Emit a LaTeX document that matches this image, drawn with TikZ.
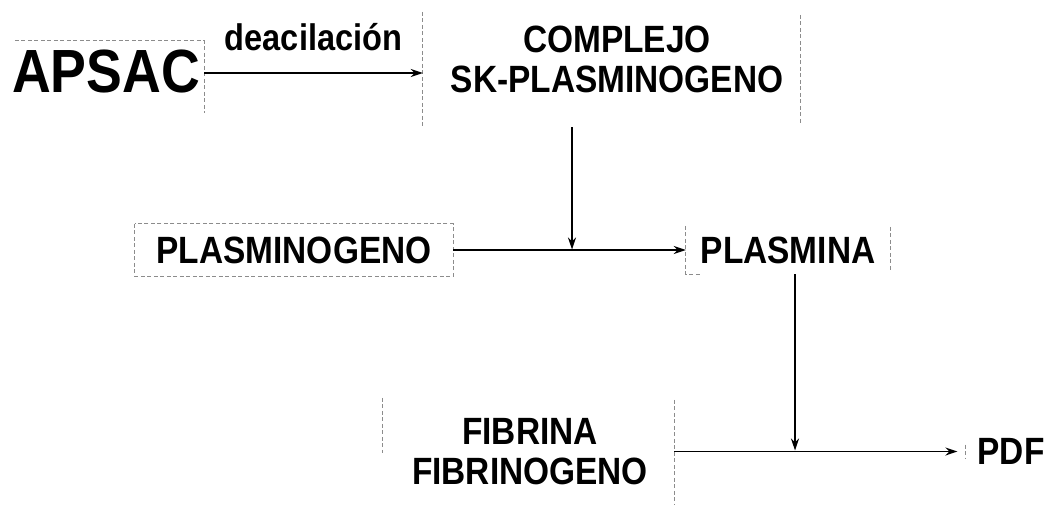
\documentclass[tikz,border=0pt]{standalone}
\usepackage{fontspec}
\setmainfont{Liberation Sans}[FakeStretch=0.88]
\usetikzlibrary{arrows.meta}
\begin{document}
\begin{tikzpicture}[x=1pt,y=-1pt,
  lbl/.style={font=\bfseries\fontsize{38}{40}\selectfont, inner sep=0pt, align=center},
  frame/.style={draw=none, inner sep=0pt},
  faint/.style={draw=black!45, line width=0.7pt, dash pattern=on 4pt off 2.5pt},
  arr/.style={draw=black, line width=1.9pt, -{Stealth[length=12pt,width=8pt]}}]
\useasboundingbox (0,0) rectangle (1054,509);
\fill[white] (0,0) rectangle (1054,509);

% boxes (frames, partly shown by faint dashed lines)
\node[frame, minimum width=189pt, minimum height=72pt] (apsacbox) at (109.5,77) {};
\node[frame, minimum width=377pt, minimum height=115pt] (complejobox) at (611.5,69.5) {};
\node[frame, lbl, minimum width=318pt, minimum height=52pt] (plasminogeno) at (294,250) {PLASMINOGENO};
\node[frame, lbl, minimum width=204pt, minimum height=48pt] (plasmina) at (788,250) {PLASMINA};
\node[frame, minimum width=291pt, minimum height=107pt] (fibrinabox) at (528.5,451.5) {};

% texts
\node[lbl, font=\bfseries\fontsize{61}{61}\selectfont] (apsac) at (106,71) {APSAC};
\node[lbl] (complejo) at (617,59) {COMPLEJO\\SK-PLASMINOGENO};
\node[lbl] (fibrina) at (530,452) {FIBRINA\\FIBRINOGENO};
\node[lbl, inner xsep=20pt] (pdf) at (1011,451.5) {PDF};

% faint dashed frame lines
\draw[faint] (apsacbox.north west) -- (apsacbox.north east) -- (apsacbox.south east);
\draw[faint] (complejobox.north west) -- (complejobox.south west);
\draw[faint] ([yshift=-3pt]complejobox.north east) -- ([yshift=2pt]complejobox.south east);
\draw[faint] (plasminogeno.north west) rectangle (plasminogeno.south east);
\draw[faint] (plasmina.north west) -- (plasmina.south west) -- ([xshift=14pt]plasmina.south west);
\draw[faint] ([yshift=-1pt]plasmina.north east) -- ([yshift=2pt]plasmina.south east);
\draw[faint] (fibrinabox.north west) -- ([yshift=-55pt]fibrinabox.north west);
\draw[faint] ([yshift=-2pt]fibrinabox.north east) -- (fibrinabox.south east);
\draw[faint] ([xshift=8pt,yshift=7pt]pdf.west) -- ([xshift=8pt,yshift=-7pt]pdf.west);

% connectors
\coordinate (mid1) at (572,249.5);
\coordinate (mid2) at (795,450.5);
\draw[arr] ([yshift=-2pt]apsac.east -| apsacbox.east) -- node[above=21pt, inner sep=0pt, font=\bfseries\fontsize{37}{37}\selectfont] (deac) {deacilación} ([yshift=-2pt]apsac.east -| complejobox.west);
\draw[arr] (complejobox.south -| mid1) -- (mid1);
\draw[arr] (plasminogeno.east) -- (plasmina.west);
\draw[arr] (plasmina.south -| mid2) -- (mid2);
\draw[arr] (fibrinabox.east) -- (fibrinabox.east -| pdf.west);
\end{tikzpicture}
\end{document}
